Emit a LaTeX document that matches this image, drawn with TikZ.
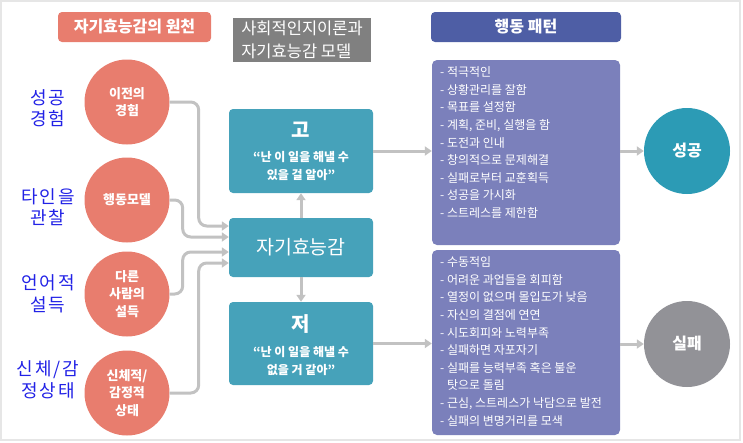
\documentclass[tikz,border=0pt]{standalone}
\usepackage{fontspec}
\setmainfont{Noto Sans CJK KR}
\usetikzlibrary{arrows.meta}
\definecolor{salmon}{HTML}{E87D6E}
\definecolor{tealbox}{HTML}{46A2BA}
\definecolor{tealc}{HTML}{2C9BB5}
\definecolor{purp}{HTML}{7B80BB}
\definecolor{bluet}{HTML}{4E5EA5}
\definecolor{grayt}{HTML}{808080}
\definecolor{failg}{HTML}{929297}
\definecolor{conng}{HTML}{C2C2C2}
\definecolor{lblue}{HTML}{2222E6}
\definecolor{frameg}{HTML}{E6E6E6}
\tikzset{
  titlebox/.style={fill=#1, text=white, rounded corners=4pt, inner sep=0pt,
    minimum height=30pt, font=\fontsize{16}{20}\selectfont\bfseries},
  src/.style={circle, fill=salmon, text=white, minimum size=85pt, inner sep=0pt,
    align=center, font=\fontsize{13}{17.5}\selectfont\bfseries},
  lbl/.style={text=lblue, align=center, inner sep=0pt, font=\fontsize{18}{21.5}\selectfont\addfontfeature{LetterSpace=10}},
  tbox/.style={fill=tealbox, rounded corners=4pt, minimum width=144pt, inner sep=0pt},
  pbox/.style={fill=purp, rounded corners=5pt, minimum width=188pt, minimum height=185pt, inner sep=0pt},
  ptext/.style={text=white, align=left, inner sep=0pt, anchor=north west, font=\fontsize{12}{17.6}\selectfont},
  quote/.style={text=white, align=center, inner sep=0pt, font=\fontsize{12}{18}\selectfont\bfseries},
  outc/.style={circle, fill=#1, text=white, minimum size=86pt, inner sep=0pt, font=\fontsize{16}{20}\selectfont\bfseries},
  conn/.style={draw=conng, line width=3pt, rounded corners=8pt, -{Triangle[length=7pt,width=9pt]}}
}
\begin{document}
\begin{tikzpicture}[x=1pt,y=-1pt]
\useasboundingbox (0,0) rectangle (743,442);
\draw[frameg, line width=1.2pt] (1,1) rectangle (740,440);

% titles
\node[titlebox=salmon, minimum width=153pt] (t1) at (134.5,27) {자기효능감의 원천};
\node[fill=grayt, text=white, minimum width=138pt, minimum height=44pt, inner sep=0pt, align=left,
  font=\fontsize{16.5}{23}\selectfont] (t2) at (302,39.5) {사회적인지이론과\\자기효능감 모델};
\node[titlebox=bluet, minimum width=190pt] (t3) at (526,27) {행동 패턴};

% source circles
\node[src] (c1) at (127,102) {이전의\\경험};
\node[src] (c2) at (127,200) {행동모델};
\node[src] (c3) at (127,294) {다른\\사람의\\설득};
\node[src] (c4) at (127,393) {신체적/\\감정적\\상태};

% blue labels
\node[lbl] (l1) at (48,108) {성공\\경험};
\node[lbl] (l2) at (48,207) {타인을\\관찰};
\node[lbl] (l3) at (48,294) {언어적\\설득};
\node[lbl] (l4) at (48,380) {신체/감\\정상태};

% teal boxes
\node[tbox, minimum height=84pt] (go) at (301,151) {};
\node[text=white, inner sep=0pt, font=\fontsize{20}{24}\selectfont\bfseries] (got) at (301,130) {고};
\node[quote] (goq) at (301,166) {“난 이 일을 해낼 수\\있을 걸 알아”};

\node[tbox, minimum height=59pt, text=white, font=\fontsize{19.5}{24}\selectfont] (self) at (301,247.5) {자기효능감};

\node[tbox, minimum height=83pt] (jeo) at (301,343.5) {};
\node[text=white, inner sep=0pt, font=\fontsize{20}{24}\selectfont\bfseries] (jeot) at (301,324) {저};
\node[quote] (jeoq) at (301,361) {“난 이 일을 해낼 수\\없을 거 같아”};

% purple boxes
\node[pbox] (pt) at (526,152.5) {};
\node[ptext] (ptt) at (440,66.5) {- 적극적인\\- 상황관리를 잘함\\- 목표를 설정함\\- 계획, 준비, 실행을 함\\- 도전과 인내\\- 창의적으로 문제해결\\- 실패로부터 교훈획득\\- 성공을 가시화\\- 스트레스를 제한함};
\node[pbox] (pb) at (526,342.5) {};
\node[ptext] (pbt) at (440,256.5) {- 수동적임\\- 어려운 과업들을 회피함\\- 열정이 없으며 몰입도가 낮음\\- 자신의 결점에 연연\\- 시도회피와 노력부족\\- 실패하면 자포자기\\- 실패를 능력부족 혹은 불운\\\phantom{- }탓으로 돌림\\- 근심, 스트레스가 낙담으로 발전\\- 실패의 변명거리를 모색};

% outcomes
\node[outc=tealc] (s) at (687,151) {성공};
\node[outc=failg] (f) at (687,344) {실패};

% connectors
\draw[conn] (c1.east) -- ++(29,0) |- ([yshift=21.5pt]self.west);
\draw[conn] (c2.east) -- ++(13,0) |- ([yshift=10.5pt]self.west);
\draw[conn] (c3.east) -- ++(13,0) |- ([yshift=-4.5pt]self.west);
\draw[conn] (c4.east) -- ++(29,0) |- ([yshift=-15.5pt]self.west);
\draw[conn] (self.north) -- (go.south);
\draw[conn] (self.south) -- (jeo.north);
\draw[conn] (go.east) -- (go.east -| pt.west);
\draw[conn] (jeo.east) -- (jeo.east -| pb.west);
\draw[conn] (s.west -| pt.east) -- (s.west);
\draw[conn] (f.west -| pb.east) -- (f.west);
\end{tikzpicture}
\end{document}
